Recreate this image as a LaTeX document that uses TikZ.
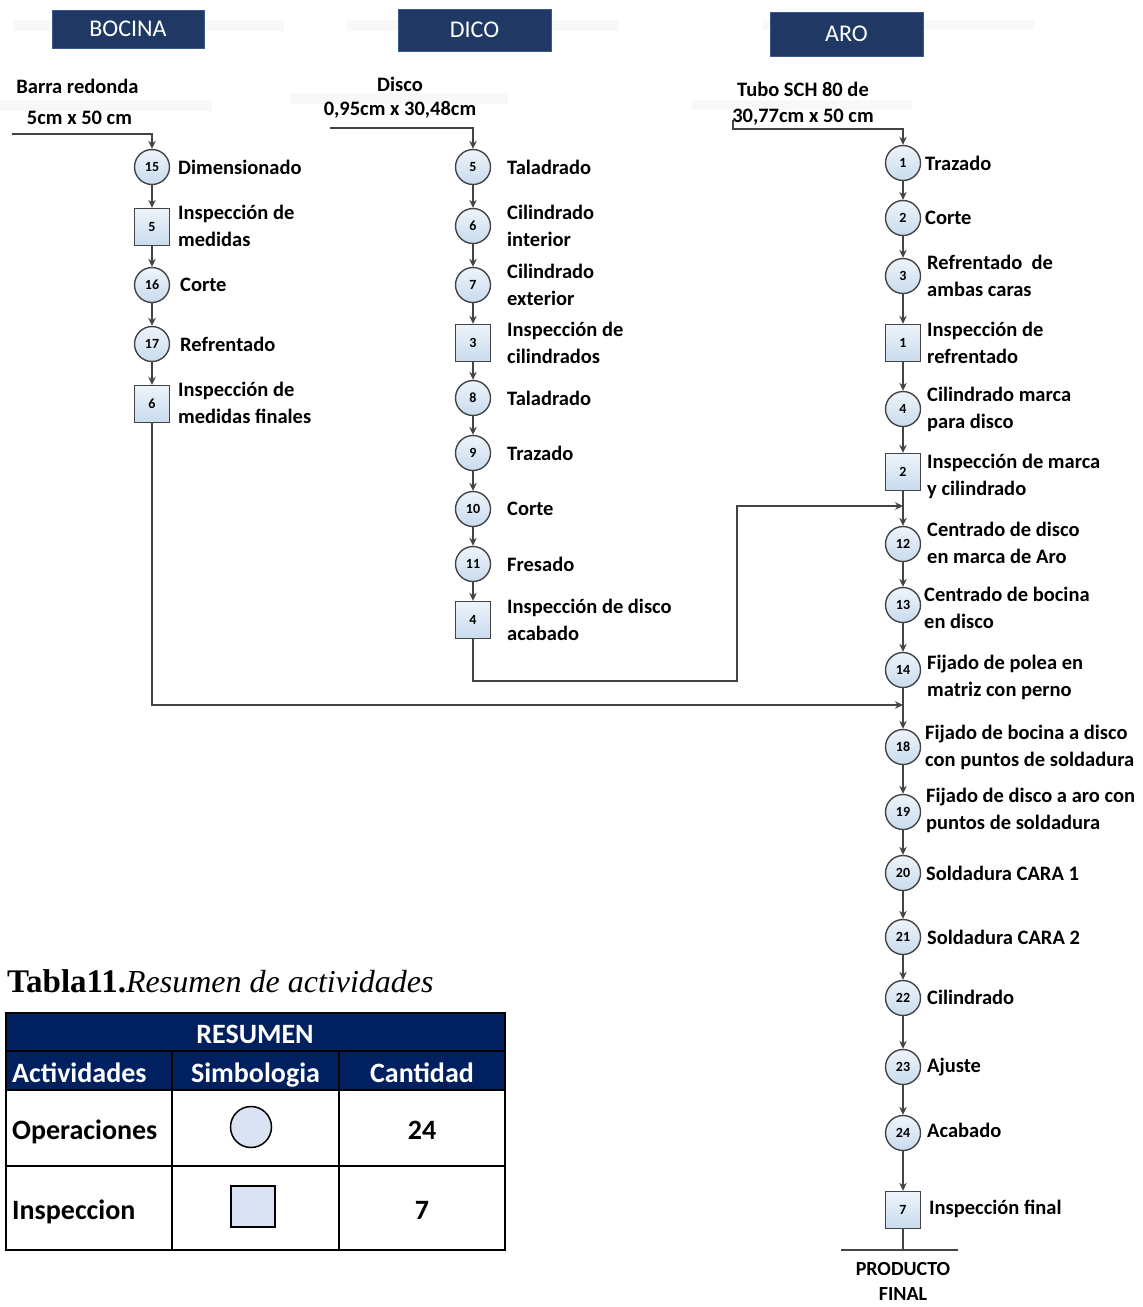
\documentclass[tikz,border=0pt]{standalone}
\usepackage{fontspec}
\setmainfont{Carlito}
\newfontfamily\serifcap{Liberation Serif}
\usetikzlibrary{arrows.meta,shadings}
\definecolor{navyhead}{HTML}{1F3864}
\definecolor{navyline}{HTML}{3A5A8C}
\definecolor{tabnavy}{HTML}{002060}
\definecolor{opA}{HTML}{EEF4FA}
\definecolor{opB}{HTML}{C8DBEE}
\definecolor{symfill}{HTML}{DAE3F3}
\definecolor{conn}{HTML}{444444}
\definecolor{band}{HTML}{F8F8F8}
\begin{document}
\begin{tikzpicture}[x=1pt,y=-1pt,
  op/.style={circle, draw=conn, line width=1.4pt, minimum size=35pt, inner sep=0pt,
    top color=opA, bottom color=opB, font=\bfseries\fontsize{14}{14}\selectfont},
  insp/.style={rectangle, draw=conn, line width=1.4pt, minimum width=35pt, minimum height=37pt, inner sep=0pt,
    top color=opA, bottom color=opB, font=\bfseries\fontsize{14}{14}\selectfont},
  lbl/.style={anchor=west, align=left, inner sep=0pt, font=\bfseries\fontsize{20.5}{27}\selectfont},
  intext/.style={inner sep=0pt, font=\bfseries\fontsize{20.5}{24}\selectfont},
  head/.style={rectangle, fill=navyhead, draw=navyline, line width=1pt, text=white, inner sep=0pt,
    font=\fontsize{24}{24}\selectfont},
  arr/.style={draw=conn, line width=1.3pt, -{Stealth[length=8pt,width=7.5pt]}},
  ln/.style={draw=conn, line width=1.3pt},
  tabtxt/.style={inner sep=0pt, anchor=base, font=\bfseries\fontsize{28}{28}\selectfont}
]
\useasboundingbox (0,0) rectangle (1143,1307);

% faint bands
\fill[band] (14,20) rectangle (284,31);
\fill[band] (347,20) rectangle (618,31);
\fill[band] (763,20) rectangle (1034,30);
\fill[band] (0,100) rectangle (212,111);
\fill[band] (290,93) rectangle (508,104);
\fill[band] (692,100) rectangle (912,110);

% headers
\node[head, minimum width=152pt, minimum height=38pt] (hb) at (128,29) {BOCINA};
\node[head, minimum width=153pt, minimum height=42pt] (hd) at (474.5,30) {DICO};
\node[head, minimum width=153pt, minimum height=44pt] (ha) at (846.5,34) {ARO};

% input texts
\node[intext] (tb1) at (77.5,86) {Barra redonda};
\node[intext] (tb2) at (79.5,118) {5cm x 50 cm};
\node[intext] (td1) at (400,84) {Disco};
\node[intext] (td2) at (400,110) {0,95cm x 30,48cm};
\node[intext] (ta1) at (803,89) {Tubo SCH 80 de};
\node[intext] (ta2) at (803,117) {30,77cm x 50 cm};

% ---------------- BOCINA ----------------
\node[op] (b15) at (152,167) {15};
\node[insp] (b5) at (152,227) {5};
\node[op] (b16) at (152,285) {16};
\node[op] (b17) at (152,344) {17};
\node[insp] (b6) at (152,404) {6};

\node[lbl] (lb15) at (178,167) {Dimensionado};
\node[lbl] (lb5) at (178,226) {Inspección de\\medidas};
\node[lbl] (lb16) at (180,285) {Corte};
\node[lbl] (lb17) at (180,344) {Refrentado};
\node[lbl] (lb6) at (178,403) {Inspección de\\medidas finales};

\coordinate (bin) at (12,134);
\draw[arr] (bin) -| (b15);
\draw[arr] (b15) -- (b5);
\draw[arr] (b5) -- (b16);
\draw[arr] (b16) -- (b17);
\draw[arr] (b17) -- (b6);

% ---------------- DICO ----------------
\node[op] (d5) at (473,167) {5};
\node[op] (d6) at (473,226) {6};
\node[op] (d7) at (473,285) {7};
\node[insp] (d3) at (473,343) {3};
\node[op] (d8) at (473,398) {8};
\node[op] (d9) at (473,453) {9};
\node[op] (d10) at (473,509) {10};
\node[op] (d11) at (473,564) {11};
\node[insp] (d4) at (473,620) {4};

\node[lbl] (ld5) at (507,167) {Taladrado};
\node[lbl] (ld6) at (507,226) {Cilindrado\\interior};
\node[lbl] (ld7) at (507,285) {Cilindrado\\exterior};
\node[lbl] (ld3) at (507,343) {Inspección de\\cilindrados};
\node[lbl] (ld8) at (507,398) {Taladrado};
\node[lbl] (ld9) at (507,453) {Trazado};
\node[lbl] (ld10) at (507,509) {Corte};
\node[lbl] (ld11) at (507,564) {Fresado};
\node[lbl] (ld4) at (507,620) {Inspección de disco\\acabado};

\coordinate (din) at (330,128);
\draw[arr] (din) -| (d5);
\draw[arr] (d5) -- (d6);
\draw[arr] (d6) -- (d7);
\draw[arr] (d7) -- (d3);
\draw[arr] (d3) -- (d8);
\draw[arr] (d8) -- (d9);
\draw[arr] (d9) -- (d10);
\draw[arr] (d10) -- (d11);
\draw[arr] (d11) -- (d4);

% ---------------- ARO ----------------
\node[op] (a1) at (903,163) {1};
\node[op] (a2) at (903,218) {2};
\node[op] (a3) at (903,276) {3};
\node[insp] (ai1) at (903,343) {1};
\node[op] (a4) at (903,409) {4};
\node[insp] (ai2) at (903,472) {2};
\node[op] (a12) at (903,544) {12};
\node[op] (a13) at (903,605) {13};
\node[op] (a14) at (903,670) {14};
\node[op] (a18) at (903,747) {18};
\node[op] (a19) at (903,812) {19};
\node[op] (a20) at (903,873) {20};
\node[op] (a21) at (903,937) {21};
\node[op] (a22) at (903,998) {22};
\node[op] (a23) at (903,1067) {23};
\node[op] (a24) at (903,1133) {24};
\node[insp] (ai7) at (903,1210) {7};

\node[lbl] (la1) at (925,163) {Trazado};
\node[lbl] (la2) at (925,218) {Corte};
\node[lbl] (la3) at (927,276) {Refrentado~~de\\ambas caras};
\node[lbl] (lai1) at (927,343) {Inspección de\\refrentado};
\node[lbl] (la4) at (927,409) {Cilindrado marca\\para disco};
\node[lbl] (lai2) at (927,476) {Inspección de marca\\y cilindrado};
\node[lbl] (la12) at (927,543) {Centrado de disco\\en marca de Aro};
\node[lbl] (la13) at (924,608) {Centrado de bocina\\en disco};
\node[lbl] (la14) at (927,677) {Fijado de polea en\\matriz con perno};
\node[lbl] (la18) at (925,747) {Fijado de bocina a disco\\con puntos de soldadura};
\node[lbl] (la19) at (926,810) {Fijado de disco a aro con\\puntos de soldadura};
\node[lbl] (la20) at (926,873) {Soldadura CARA 1};
\node[lbl] (la21) at (927,937) {Soldadura CARA 2};
\node[lbl] (la22) at (927,997) {Cilindrado};
\node[lbl] (la23) at (927,1067) {Ajuste};
\node[lbl] (la24) at (927,1130) {Acabado};
\node[lbl] (lai7) at (929,1209) {Inspección final};

\coordinate (ain) at (733,120);
\coordinate (acorner) at (903,129);
\draw[arr] (ain) |- (acorner) -- (a1);
\draw[arr] (a1) -- (a2);
\draw[arr] (a2) -- (a3);
\draw[arr] (a3) -- (ai1);
\draw[arr] (ai1) -- (a4);
\draw[arr] (a4) -- (ai2);
\draw[arr] (ai2) -- (a12);
\draw[arr] (a12) -- (a13);
\draw[arr] (a13) -- (a14);
\draw[arr] (a14) -- (a18);
\draw[arr] (a18) -- (a19);
\draw[arr] (a19) -- (a20);
\draw[arr] (a20) -- (a21);
\draw[arr] (a21) -- (a22);
\draw[arr] (a22) -- (a23);
\draw[arr] (a23) -- (a24);
\draw[arr] (a24) -- (ai7);

% merges
\coordinate (dcorner) at (737,681);
\coordinate (jd) at (903,506);
\draw[arr] (d4.south) |- (dcorner) |- (jd);
\coordinate (jb) at (903,705);
\draw[arr] (b6.south) |- (jb);

% product final
\coordinate (pf) at (903,1250);
\coordinate (pfl) at (841,1250);
\coordinate (pfr) at (958,1250);
\draw[ln] (ai7.south) -- (pf);
\draw[ln] (pfl) -- (pfr);
\node[align=center, inner sep=0pt, font=\bfseries\fontsize{20}{25}\selectfont] (pft) at (903,1281) {PRODUCTO\\FINAL};

% ---------------- TABLE ----------------
\node[anchor=base west, inner sep=0pt, font=\serifcap\fontsize{33}{33}\selectfont] (cap) at (7,992)
  {\textbf{Tabla11.}\fontsize{32}{32}\selectfont\textit{Resumen de actividades}};

\fill[tabnavy] (6,1013) rectangle (505,1090);
\draw[black, line width=2pt] (6,1013) rectangle (505,1250);
\draw[black, line width=2pt] (6,1051) -- (505,1051);
\draw[black, line width=2pt] (6,1090) -- (505,1090);
\draw[black, line width=2pt] (6,1166) -- (505,1166);
\draw[black, line width=2pt] (172,1051) -- (172,1250);
\draw[black, line width=2pt] (339,1051) -- (339,1250);

\node[tabtxt, text=white] (tres) at (255,1043) {RESUMEN};
\node[tabtxt, text=white, anchor=base west] (tact) at (12,1082) {Actividades};
\node[tabtxt, text=white] (tsim) at (255.5,1082) {Simbologia};
\node[tabtxt, text=white] (tcan) at (422,1082) {Cantidad};
\node[tabtxt, anchor=base west] (top) at (12,1139) {Operaciones};
\node[tabtxt, anchor=base west] (tins) at (12,1219) {Inspeccion};
\node[tabtxt] (t24) at (422,1139) {24};
\node[tabtxt] (t7) at (422,1219) {7};
\node[circle, draw=black, line width=1.5pt, fill=symfill, minimum size=41pt, inner sep=0pt] (symop) at (251,1127) {};
\node[rectangle, draw=black, line width=1.5pt, fill=symfill, minimum width=44pt, minimum height=41pt, inner sep=0pt] (syminsp) at (253,1206.5) {};
\end{tikzpicture}
\end{document}
